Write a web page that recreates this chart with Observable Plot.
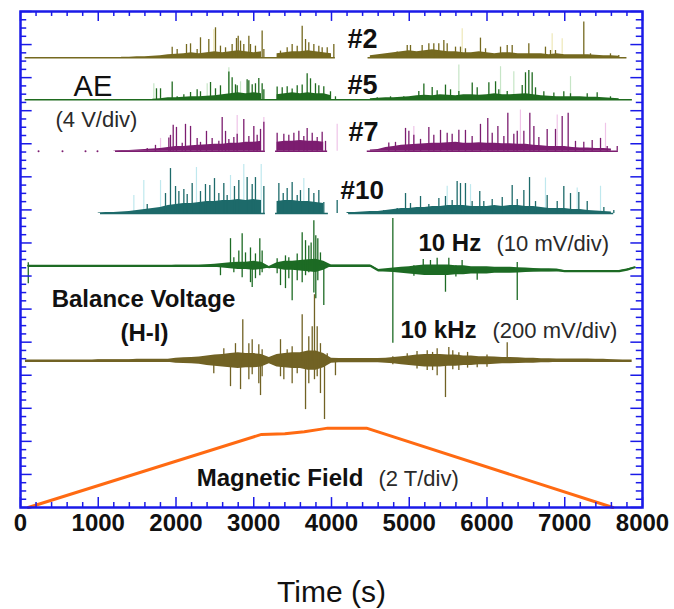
<!DOCTYPE html>
<html>
<head>
<meta charset="utf-8">
<script src="https://cdn.jsdelivr.net/npm/d3@7"></script>
<script src="https://cdn.jsdelivr.net/npm/@observablehq/plot@0.6"></script>
<style>
  html, body { margin: 0; padding: 0; background: #fff; }
  #chart { width: 674px; height: 609px; }
</style>
</head>
<body>
<div id="chart"></div>
<script>
// ---------- sampling of the envelope arrays (s) ----------
const sampleStep = 100;           // one value every 100 s, t = 0 … 8000

// ---------- Acoustic emission (V, 4 V/div) ----------
// dense "floor" of the AE signal, one value per 100 s (null = no signal)
const ae2Floor = [
  null,null,null,null,null,null,null,null,null,null,
  null,null,null,.06,.06,.12,.12,.18,.24,.36,
  .42,.48,.6,.48,.6,.73,.6,.73,.85,.73,
  .6,.73,null,.48,.6,.73,.73,.85,.73,.6,
  .48,null,null,null,null,.24,.36,.48,.6,.73,
  .85,.73,.85,.97,.85,.73,.73,.6,.6,.73,
  .6,.48,.6,.6,.48,.48,.48,.48,.36,.48,
  .36,.36,.36,.36,.3,.24,.24,.18,null,null,null];
const ae5Floor = [
  null,null,null,null,null,null,null,null,null,null,
  null,null,null,null,null,null,null,.06,.12,.24,
  .24,.3,.36,.36,.42,.48,.6,.73,.85,.73,
  .85,.73,null,.6,.73,.85,.73,.85,.73,.73,
  .48,null,null,null,null,.12,.18,.24,.24,.3,
  .36,.48,.54,.48,.6,.54,.48,.6,.6,.54,
  .6,.73,.6,.6,.67,.73,.6,.48,.42,.36,
  .36,.36,.36,.3,.3,.24,.18,.12,null,null,null];
const ae7Floor = [
  null,null,null,null,null,null,null,null,null,null,
  null,null,.06,.12,.12,.18,.24,.3,.36,.48,
  .6,.6,.67,.73,.79,.85,.85,.97,.97,1.09,
  1.09,1.21,null,1.09,1.21,1.21,1.33,1.21,1.21,1.09,
  null,null,null,null,null,.18,.24,.48,.6,.73,
  .79,.85,.91,.97,.97,1.03,1.09,.97,.97,1.03,
  .97,.97,.91,.91,.85,.85,.73,.67,.6,.6,
  .6,.48,.42,.42,.36,.36,.3,null,null,null,null];
const ae10Floor = [
  null,null,null,null,null,null,null,null,null,null,
  .06,.12,.12,.18,.24,.36,.48,.6,.73,.97,
  1.09,1.21,1.21,1.33,1.45,1.45,1.57,1.57,1.69,1.57,
  1.69,1.57,null,1.45,1.57,1.57,1.45,1.45,1.33,1.21,
  null,null,.12,.12,.18,.24,.24,.36,.48,.6,
  .6,.73,.73,.85,.85,.97,.97,.97,.85,.85,
  .85,.97,.85,.97,.97,.85,.85,.73,.6,.6,
  .6,.48,.48,.36,.3,.24,.18,null,null,null,null];

// individual AE bursts: [time (s), amplitude (V)]
const ae2Spikes = [
  [1951,1.29],[2015,1.0],[2135,1.61],[2187,1.69],[2272,1.0],[2315,2.42],[2422,2.21],[2508,3.63],
  [2572,1.41],[2637,1.21],[2722,1.61],[2778,2.33],[2800,2.62],[2830,2.02],[2872,1.61],[2937,2.62],
  [2958,1.61],[3022,1.41],[3108,3.23],[3130,1.0],[3344,.81],[3430,1.21],[3494,1.61],[3559,1.41],
  [3623,3.83],[3666,2.21],[3708,1.81],[3773,1.61],[3837,1.41],[3880,1.21],[3945,1.21],[4030,1.61],
  [4673,.28],[4845,.69],[4974,1.49],[5016,1.49],[5166,1.49],[5252,1.69],[5316,1.69],[5380,1.69],
  [5445,2.09],[5488,1.69],[5595,1.29],[5659,1.29],[5723,1.09],[5916,2.38],[5981,1.09],[6174,1.29],
  [6260,1.49],[6324,1.49],[6538,1.69],[6752,1.29],[6817,.88],[6881,.88],[7245,4.32],[7331,.48],
  [7588,.48],[7695,.28]];
const ae5Spikes = [
  [1749,1.33],[1801,1.33],[1951,2.14],[2015,.36],[2101,.6],[2187,.88],[2272,1.21],[2315,.97],
  [2444,2.09],[2508,1.33],[2572,1.69],[2680,3.35],[2722,2.66],[2765,1.81],[2787,1.69],[2915,2.42],
  [2937,2.3],[2980,1.81],[3022,1.94],[3065,2.58],[3108,1.94],[3130,1.21],[3301,1.54],[3366,1.45],
  [3430,1.57],[3494,1.29],[3559,1.69],[3623,1.78],[3687,3.15],[3730,2.54],[3794,1.94],[3837,1.69],
  [3901,1.57],[3987,.97],[4051,.36],[4588,.24],[4759,.36],[4930,.36],[5123,1.0],[5188,1.9],
  [5295,1.49],[5359,1.09],[5466,1.78],[5531,1.21],[5638,1.0],[5810,2.02],[5874,1.45],[6024,2.06],
  [6110,2.18],[6152,1.21],[6260,1.0],[6453,1.73],[6495,3.27],[6538,3.55],[6581,3.27],[6624,1.45],
  [6731,.97],[6860,.81],[6988,.97],[7074,.73],[7289,.73],[7417,.85],[7588,.36]];
const ae7Spikes = [
  [1630,.36],[1736,.73],[1908,1.61],[1929,1.94],[1964,3.15],[2006,2.9],[2080,.97],[2122,3.27],
  [2187,3.02],[2272,1.57],[2315,1.09],[2392,2.42],[2465,1.57],[2551,1.21],[2594,4.11],[2637,2.42],
  [2680,1.45],[2744,1.69],[2787,2.06],[2872,3.87],[2937,1.81],[3001,3.02],[3044,1.94],[3087,2.66],
  [3130,3.51],[3301,2.18],[3387,2.06],[3451,1.94],[3516,2.18],[3580,2.42],[3644,1.81],[3687,2.78],
  [3752,2.18],[3816,1.69],[3880,2.3],[3923,1.21],[4737,1.0],[4823,1.09],[4952,2.78],[4995,2.42],
  [5059,1.94],[5145,1.45],[5252,2.9],[5316,1.94],[5402,2.54],[5488,2.18],[5552,2.06],[5638,2.54],
  [5723,2.54],[5809,1.81],[5916,3.27],[6010,3.99],[6067,2.18],[6140,3.02],[6217,1.81],[6268,4.6],
  [6345,2.06],[6389,2.42],[6474,2.42],[6551,4.6],[6603,3.02],[6667,1.69],[6774,2.66],[6881,2.66],
  [6967,4.23],[7044,4.6],[7138,1.21],[7245,1.09],[7353,1.33],[7460,1.57],[7546,.6],[7675,.6]];
const ae10Spikes = [
  [1630,1.09],[1865,2.42],[1929,5.44],[1994,3.27],[2037,2.66],[2101,2.9],[2144,2.3],[2208,3.63],
  [2315,2.66],[2379,3.51],[2435,3.39],[2495,4.23],[2551,2.42],[2615,3.63],[2658,2.18],[2752,3.27],
  [2808,3.99],[2915,4.35],[2980,3.51],[3022,4.35],[3130,3.27],[3323,3.63],[3379,2.42],[3430,3.02],
  [3494,3.75],[3559,2.18],[3601,2.78],[3708,3.02],[3773,2.42],[3837,2.78],[3901,1.33],[4073,1.57],
  [4673,.36],[4845,.6],[4952,2.42],[5016,1.21],[5145,2.06],[5252,1.09],[5381,1.81],[5466,2.06],
  [5552,1.57],[5616,3.87],[5659,3.63],[5723,3.63],[5809,1.45],[5907,2.66],[5959,1.45],[6067,1.69],
  [6196,1.94],[6324,3.39],[6389,1.69],[6474,2.78],[6547,4.35],[6624,1.45],[6774,2.18],[6903,1.45],
  [6988,3.27],[7074,2.42],[7181,2.54],[7289,1.45],[7503,.73],[7631,.36]];
// faint (light) bursts
const ae2Pale  = [[2486,3.4],[5681,3.5],[6838,2.9],[6967,2.3]];
const ae5Pale  = [[1715,1.94],[2401,1.94],[2680,3.87],[2830,2.18],[5638,4.2],[6174,4.0],[6345,3.4],[7074,2.8]];
const ae7Pale  = [[1801,1.57],[2787,4.35],[3130,4.1],[4073,3.27],[5059,3.0],[6430,5.0],[6903,4.4],[7524,3.4]];
const ae10Pale = [[1458,2.18],[1586,3.99],[1801,3.99],[2263,5.57],[2701,4.6],[2872,5.93],[3096,5.93],
  [3644,4.23],[5488,3.3],[5788,3.5],[6752,4.3],[7160,3.1],[7460,3.3]];
// recorded stretches of each AE channel [start, end] (s)
const ae2Span  = [[60,4050],[4470,7800]];
const ae5Span  = [[60,7870]];
const ae7Span  = [[1222,3150],[3280,3950],[4460,7690]];
const ae10Span = [[1029,3150],[3280,3960],[4220,7630]];
const ae7Dots  = [232,540,836,990];

// ---------- Balance voltage ----------
// 10 Hz (mV, 10 mV/div): mean level and noise half-width, one value per 100 s
const hz10Level = [
  null,0,0,0,0,0,0,0,0,0,
  0,0,0,0,0,0,0,0,0,0,
  0,0,0,0,0,0,0,0,0,0,
  0,0,-.45,0,0,0,0,0,0,0,
  0,0,0,0,0,0,-1.36,-1.36,-1.36,-1.36,
  -1.36,-1.36,-1.36,-1.36,-1.36,-1.36,-1.36,-1.36,-1.36,-1.36,
  -1.36,-1.36,-1.36,-1.36,-1.36,-1.36,-1.36,-1.36,-1.36,-1.36,
  -1.66,-1.66,-1.66,-1.66,-1.66,-1.66,-1.66,-1.66,-1.2,-.45,null];
const hz10Noise = [
  0,0,0,0,0,0,0,0,0,0,
  0,0,0,0,0,0,0,0,0,0,
  .15,.15,.15,.15,.3,.45,.7,.9,1.1,1.1,
  1.35,1.1,.2,.9,1.35,1.35,1.6,1.8,2.0,1.35,
  .2,.2,.2,.2,.2,.2,.2,.45,.7,.9,
  1.1,1.35,1.6,1.6,1.6,1.6,1.35,1.35,1.1,1.1,
  1.1,.9,.9,.9,.8,.7,.55,.45,.45,.35,
  .2,.2,.2,.2,.2,.2,.2,.2,.2,0,0];
// 10 Hz spikes: [time (s), min (mV), max (mV)]
const hz10Spikes = [
  [100,-5.4,.9],[2572,-3.0,0],[2701,0,8.2],[2744,-2.1,2.4],[2808,0,4.5],[2851,-3.6,9.7],[2894,0,3.9],
  [2958,-5.1,5.4],[2980,-6.6,0],[3022,-3.9,3.6],[3078,-3.0,8.2],[3108,-2.1,4.5],[3301,-2.4,2.1],
  [3344,-6.0,0],[3408,-6.9,3.0],[3451,-3.9,2.4],[3494,-10.6,0],[3559,-4.5,3.6],[3623,-5.1,10.0],
  [3666,-3.0,7.6],[3708,-2.1,6.0],[3738,0,6.9],[3773,-8.2,13.6],[3798,-10.0,9.1],[3824,-4.5,8.2],
  [3858,0,3.9],[3901,-12.0,0],[4789,-23.4,14.3],[5060,-3.2,0],[5180,-1.4,1.9],[5273,-1.4,1.6],
  [5359,-1.4,2.3],[5466,-8.0,-1.4],[5509,-1.4,2.3],[5600,-3.4,0],[5680,-1.4,1.6],[5874,-4.4,-1.4],
  [6389,-10.5,1.0]];
// 10 kHz (mV, 200 mV/div): noise half-width, one value per 100 s
const khz10Noise = [
  0,0,0,0,0,0,0,0,0,0,
  6,6,6,6,6,9,9,9,9,9,
  15,17,19,22,29,34,38,43,48,43,
  43,38,19,38,43,48,48,58,58,43,
  15,13,13,13,13,13,13,15,19,24,
  29,34,38,38,38,34,34,29,29,24,
  24,22,19,19,17,15,15,12,12,10,
  10,10,10,10,8,8,6,3,0,0,0];
const khz10Span = [[64,7867]];
const khz10Spikes = [
  [2486,-79,0],[2615,0,72],[2701,-157,0],[2765,0,103],[2830,-175,0],[2859,0,248],[2937,-115,103],
  [2980,-85,127],[3065,-139,97],[3087,-211,0],[3108,-97,66],[3344,-97,127],[3387,-115,0],[3430,0,66],
  [3494,-139,85],[3559,-79,0],[3623,0,278],[3666,-296,0],[3708,-139,145],[3752,0,205],[3781,-115,399],
  [3816,-97,205],[3858,-199,103],[3910,-356,0],[3945,0,42],[4051,-91,0],[4789,-24,24],[4974,0,42],
  [5100,-50,55],[5231,-60,60],[5300,-60,50],[5359,-91,72],[5466,-223,0],[5509,0,79],[5560,-55,60],
  [5638,-60,48],[5750,-45,50],[5874,-42,0],[6000,-40,35],[6260,0,109]];

// ---------- Magnetic field (T, 2 T/div) ----------
const fieldTime  = [100, 3100, 3400, 3650, 3870, 3950, 4450, 7620];
const fieldTesla = [0, 4.42, 4.46, 4.58, 4.74, 4.8, 4.8, 0];

// ---------- axes ----------
const xTickLabels = [0,1000,2000,3000,4000,5000,6000,7000,8000];
const xMinorStep = 200;
const yDivisions = 15;

// ================= drawing =================
const blue = "#1a1ae8";
const ink = "#111";
const samples = (arr, extra) => arr.map((v, i) => ({t: i * sampleStep, v, ...(extra ? extra(i) : {})}));

function aeMarks(tr) {
  const off = tr.offset, k = 1 / tr.vPerDiv;
  return [
    Plot.ruleX(tr.pale, {x: d => d[0], y1: () => off, y2: d => off + d[1] * k, stroke: tr.pale_color, strokeWidth: 1.2}),
    Plot.ruleY(tr.span, {y: () => off, x1: d => d[0], x2: d => d[1], stroke: tr.color, strokeWidth: 1.5}),
    Plot.areaY(samples(tr.floor), {x: "t", y1: () => off, y2: d => d.v == null ? NaN : off + d.v * k, fill: tr.color, curve: "linear"}),
    Plot.ruleX(tr.spikes, {x: d => d[0], y1: () => off, y2: d => off + d[1] * k, stroke: tr.color, strokeWidth: 1.3})
  ];
}

const aeTraces = [
  {floor: ae2Floor,  spikes: ae2Spikes,  pale: ae2Pale,  span: ae2Span,  offset: 13.6,  vPerDiv: 4, color: "#75691f", pale_color: "#eee8b8"},
  {floor: ae5Floor,  spikes: ae5Spikes,  pale: ae5Pale,  span: ae5Span,  offset: 12.33, vPerDiv: 4, color: "#1f6b1f", pale_color: "#c6e5c6"},
  {floor: ae7Floor,  spikes: ae7Spikes,  pale: ae7Pale,  span: ae7Span,  offset: 10.77, vPerDiv: 4, color: "#7c1d70", pale_color: "#efc4e8"},
  {floor: ae10Floor, spikes: ae10Spikes, pale: ae10Pale, span: ae10Span, offset: 8.89,  vPerDiv: 4, color: "#1d6a6a", pale_color: "#bfe8ee"}
];

const hzOff = 7.31, hzPerDiv = 10, hzColor = "#1d6b24";
const khzOff = 4.44, khzPerDiv = 200, khzColor = "#716224";
const hzRows = samples(hz10Level, i => ({amp: hz10Noise[i]}));
const khzRows = samples(khz10Noise);
const fieldRows = fieldTime.map((t, i) => ({t, B: fieldTesla[i]}));

const xMinor = d3.range(0, 8001, xMinorStep);
const yMinor = d3.range(0, yDivisions + 0.001, 0.25);
const isMajorX = d => d % 1000 === 0;
const isMajorY = d => Math.abs(d - Math.round(d)) < 1e-6;

const txt = (text, x, y, o) => Plot.text([text], {x: () => x, y: () => y, lineAnchor: "bottom", fill: ink, ...o});
const note = {fill: "#2a2a2a"};

const chart = Plot.plot({
  width: 674,
  height: 609,
  marginLeft: 20,
  marginRight: 32,
  marginTop: 11,
  marginBottom: 102,
  style: {fontFamily: "'Liberation Sans', Arial, sans-serif", background: "#fff", overflow: "visible"},
  x: {domain: [0, 8000]},
  y: {domain: [0, yDivisions], axis: null},
  marks: [
    ...aeTraces.flatMap(aeMarks),
    Plot.dot(ae7Dots, {x: d => d, y: () => 10.77, r: 1, fill: "#7c1d70", stroke: null}),

    // 10 Hz balance voltage
    Plot.areaY(hzRows, {x: "t", y1: d => d.v == null ? NaN : hzOff + (d.v - d.amp) / hzPerDiv,
      y2: d => d.v == null ? NaN : hzOff + (d.v + d.amp) / hzPerDiv, fill: hzColor}),
    Plot.line(hzRows, {x: "t", y: d => d.v == null ? NaN : hzOff + d.v / hzPerDiv, stroke: hzColor, strokeWidth: 2.2}),
    Plot.ruleX(hz10Spikes, {x: d => d[0], y1: d => hzOff + d[1] / hzPerDiv, y2: d => hzOff + d[2] / hzPerDiv, stroke: hzColor, strokeWidth: 1.3}),

    // 10 kHz balance voltage
    Plot.areaY(khzRows, {x: "t", y1: d => khzOff - d.v / khzPerDiv, y2: d => khzOff + d.v / khzPerDiv, fill: khzColor}),
    Plot.ruleY(khz10Span, {y: () => khzOff, x1: d => d[0], x2: d => d[1], stroke: khzColor, strokeWidth: 2.4}),
    Plot.ruleX(khz10Spikes, {x: d => d[0], y1: d => khzOff + d[1] / khzPerDiv, y2: d => khzOff + d[2] / khzPerDiv, stroke: khzColor, strokeWidth: 1.3}),

    // magnetic field
    Plot.line(fieldRows, {x: "t", y: d => d.B / 2, stroke: "#ff6a12", strokeWidth: 3}),

    // labels
    txt("#2", 4206, 13.6 + 0.3, {textAnchor: "start", fontSize: 27, fontWeight: "bold"}),
    txt("#5", 4206, 12.33 + 0.18, {textAnchor: "start", fontSize: 27, fontWeight: "bold"}),
    txt("#7", 4219, 10.77 + 0.32, {textAnchor: "start", fontSize: 27, fontWeight: "bold"}),
    txt("#10", 4116, 8.89 + 0.45, {textAnchor: "start", fontSize: 26, fontWeight: "bold"}),
    txt("AE", 932, 12.45, {fontSize: 29}),
    txt("(4 V/div)", 977, 11.5, {fontSize: 22, ...note}),
    txt("10 Hz", 5119, 7.77, {textAnchor: "start", fontSize: 24, fontWeight: "bold"}),
    txt("(10 mV/div)", 6122, 7.77, {textAnchor: "start", fontSize: 22, ...note}),
    txt("10 kHz", 4887, 5.14, {textAnchor: "start", fontSize: 24, fontWeight: "bold"}),
    txt("(200 mV/div)", 6071, 5.14, {textAnchor: "start", fontSize: 22, ...note}),
    txt("Balance Voltage", 1582, 6.05, {fontSize: 24, fontWeight: "bold"}),
    txt("(H-I)", 1595, 5.05, {fontSize: 24, fontWeight: "bold"}),
    txt("Magnetic Field", 3338, 0.66, {fontSize: 24, fontWeight: "bold"}),
    txt("(2 T/div)", 4605, 0.66, {textAnchor: "start", fontSize: 22, ...note}),

    // frame and inward ticks
    Plot.ruleX(xMinor, {x: d => d, y1: () => 0, y2: d => isMajorX(d) ? 0.3 : 0.15, stroke: blue, strokeWidth: 1.5}),
    Plot.ruleX(xMinor, {x: d => d, y1: () => yDivisions, y2: d => yDivisions - (isMajorX(d) ? 0.3 : 0.15), stroke: blue, strokeWidth: 1.5}),
    Plot.ruleY(yMinor, {y: d => d, x1: () => 0, x2: d => isMajorY(d) ? 150 : 80, stroke: blue, strokeWidth: 1.5}),
    Plot.ruleY(yMinor, {y: d => d, x1: () => 8000, x2: d => 8000 - (isMajorY(d) ? 150 : 80), stroke: blue, strokeWidth: 1.5}),
    Plot.frame({stroke: blue, strokeWidth: 2.5}),
    Plot.axisX({ticks: xTickLabels, tickSize: 0, tickPadding: 6, fontSize: 24, fontWeight: "bold",
      tickFormat: d => String(d), label: null, fill: ink}),
    Plot.text(["Time (s)"], {frameAnchor: "bottom", dy: 94, lineAnchor: "bottom", fontSize: 30, fill: ink})
  ]
});
document.getElementById("chart").append(chart);
</script>
</body>
</html>
